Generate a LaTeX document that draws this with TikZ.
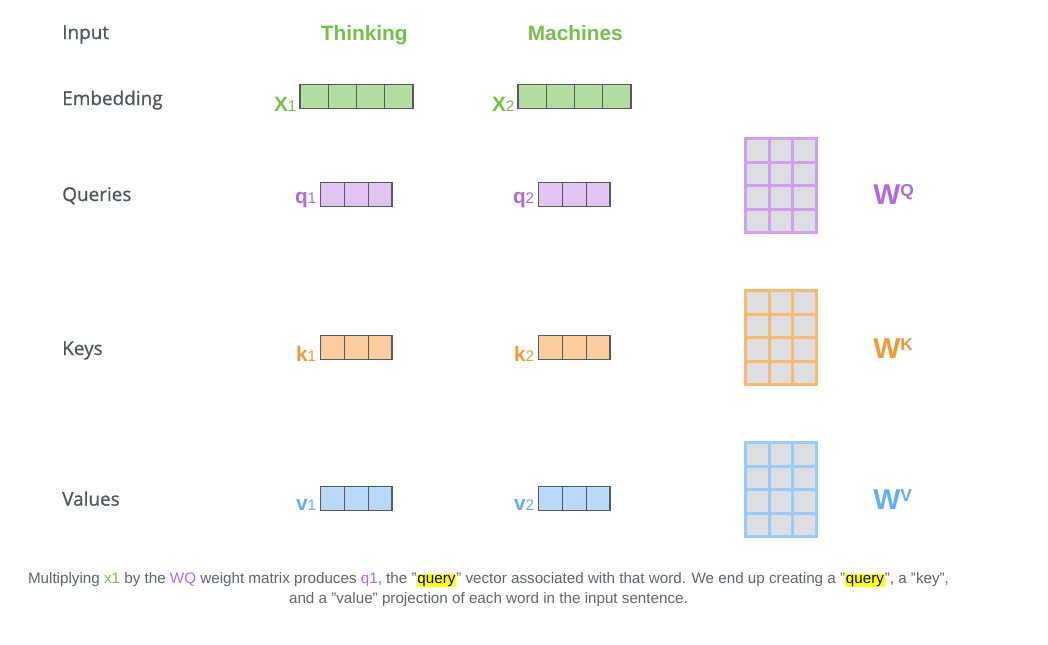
\documentclass[tikz,border=0pt]{standalone}
\usepackage{fontspec}
\setmainfont{Liberation Sans}
\newfontfamily\rowfont[BoldFont=Open Sans, BoldFeatures={FakeBold=0.8}]{Open Sans}
\usetikzlibrary{positioning}

\definecolor{labgray}{RGB}{80,85,92}
\definecolor{capgray}{RGB}{96,100,106}
\definecolor{cellline}{RGB}{85,90,96}
\definecolor{matgray}{RGB}{220,221,224}
\definecolor{wgreen}{RGB}{116,192,72}
\definecolor{xfill}{RGB}{179,222,160}
\definecolor{qtext}{RGB}{178,104,226}
\definecolor{qfill}{RGB}{224,196,242}
\definecolor{qline}{RGB}{206,160,238}
\definecolor{ktext}{RGB}{242,152,52}
\definecolor{kfill}{RGB}{251,204,156}
\definecolor{kline}{RGB}{247,185,108}
\definecolor{vtext}{RGB}{96,174,245}
\definecolor{vfill}{RGB}{184,218,248}
\definecolor{vline}{RGB}{152,202,248}
\definecolor{hilite}{RGB}{255,255,0}

\newcommand{\dq}{\symbol{34}}
\newcommand{\hl}[1]{{\setlength{\fboxsep}{0.6pt}\colorbox{hilite}{\color{black}#1}}}

\begin{document}
\begin{tikzpicture}[x=0.75pt,y=-0.75pt,
    rowlab/.style={anchor=base west, inner sep=0pt, text=labgray, font=\rowfont\bfseries\fontsize{14.2}{16}\selectfont},
    wordlab/.style={anchor=base, inner sep=0pt, text=wgreen, font=\bfseries\fontsize{15.6}{18}\selectfont},
    veclab/.style={anchor=base east, inner sep=0pt, font=\bfseries\fontsize{15.6}{18}\selectfont},
    wlab/.style={anchor=base west, inner sep=0pt, font=\bfseries\fontsize{21.5}{24}\selectfont},
    cell/.style={draw=cellline, line width=0.9pt},
    grid/.style={line width=2.25pt}
  ]
  \useasboundingbox (0,0) rectangle (1048,644);

  % Row labels
  \node[rowlab] (lInput) at (62,39) {Input};
  \node[rowlab] (lEmb) at (62,105) {Embedding};
  \node[rowlab] (lQ) at (62,201) {Queries};
  \node[rowlab] (lK) at (62,355) {Keys};
  \node[rowlab] (lV) at (62,505.7) {Values};

  % Input words
  \node[wordlab] (wThinking) at (364.3,40) {Thinking};
  \node[wordlab] (wMachines) at (575.3,40) {Machines};

  % Embeddings
  \foreach \i in {0,...,3} {
    \draw[cell, fill=xfill] (300+28.25*\i,84.3) rectangle ++(28.25,24);
    \draw[cell, fill=xfill] (518+28.25*\i,84.3) rectangle ++(28.25,24);
  }
  \coordinate (x1) at (300,104.3);
  \coordinate (x2) at (518,104.3);
  \node[veclab, text=wgreen, left=2.5pt of x1] (x1lab) {X{\mdseries\fontsize{11.5}{12}\selectfont 1}};
  \node[veclab, text=wgreen, left=2.5pt of x2] (x2lab) {X{\mdseries\fontsize{11.5}{12}\selectfont 2}};

  % Queries, keys, values
  \foreach \name/\yy/\fcol in {q/182.3/qfill, k/335.3/kfill, v/486.3/vfill} {
    \foreach \i in {0,...,2} {
      \draw[cell, fill=\fcol] (320.5+23.8*\i,\yy) rectangle ++(23.8,24);
      \draw[cell, fill=\fcol] (538.5+23.8*\i,\yy) rectangle ++(23.8,24);
    }
  }
  \coordinate (q1) at (320.5,200.5);
  \coordinate (q2) at (538.5,200.5);
  \coordinate (k1) at (320.5,353.5);
  \coordinate (k2) at (538.5,353.5);
  \coordinate (v1) at (320.5,504.5);
  \coordinate (v2) at (538.5,504.5);
  \node[veclab, text=qtext, left=3pt of q1] (q1lab) {q{\mdseries\fontsize{11.5}{12}\selectfont 1}};
  \node[veclab, text=qtext, left=3pt of q2] (q2lab) {q{\mdseries\fontsize{11.5}{12}\selectfont 2}};
  \node[veclab, text=ktext, left=3pt of k1] (k1lab) {k{\mdseries\fontsize{11.5}{12}\selectfont 1}};
  \node[veclab, text=ktext, left=3pt of k2] (k2lab) {k{\mdseries\fontsize{11.5}{12}\selectfont 2}};
  \node[veclab, text=vtext, left=3pt of v1] (v1lab) {v{\mdseries\fontsize{11.5}{12}\selectfont 1}};
  \node[veclab, text=vtext, left=3pt of v2] (v2lab) {v{\mdseries\fontsize{11.5}{12}\selectfont 2}};

  % Weight matrices
  \foreach \yy/\lcol in {138.5/qline, 290.5/kline, 442.5/vline} {
    \fill[matgray] (745.5,\yy) rectangle (816.5,\yy+94);
    \foreach \c in {0,...,3}
      \draw[grid, \lcol] (745.5+23.67*\c,\yy-1.1) -- (745.5+23.67*\c,\yy+95.1);
    \foreach \r in {0,...,4}
      \draw[grid, \lcol] (744.4,\yy+23.5*\r) -- (817.6,\yy+23.5*\r);
  }
  \node[wlab, text=qtext] (wq) at (873,204) {W\raisebox{5.5pt}{\fontsize{13}{14}\selectfont Q}};
  \node[wlab, text=ktext] (wk) at (873,358) {W\raisebox{5.5pt}{\fontsize{13}{14}\selectfont K}};
  \node[wlab, text=vtext] (wv) at (873,509) {W\raisebox{5.5pt}{\fontsize{13}{14}\selectfont V}};

  % Caption
  \node[text=capgray, align=center, font=\fontsize{11.4}{15.5}\selectfont] (caption) at (488.5,589.5)
    {Multiplying {\color{wgreen}x1} by the {\color{qtext}WQ} weight matrix produces {\color{qtext}q1}, the \dq\hl{query}\dq{} vector associated with that word. We end up creating a \dq\hl{query}\dq, a \dq key\dq,\\
     and a \dq value\dq{} projection of each word in the input sentence.};
\end{tikzpicture}
\end{document}
